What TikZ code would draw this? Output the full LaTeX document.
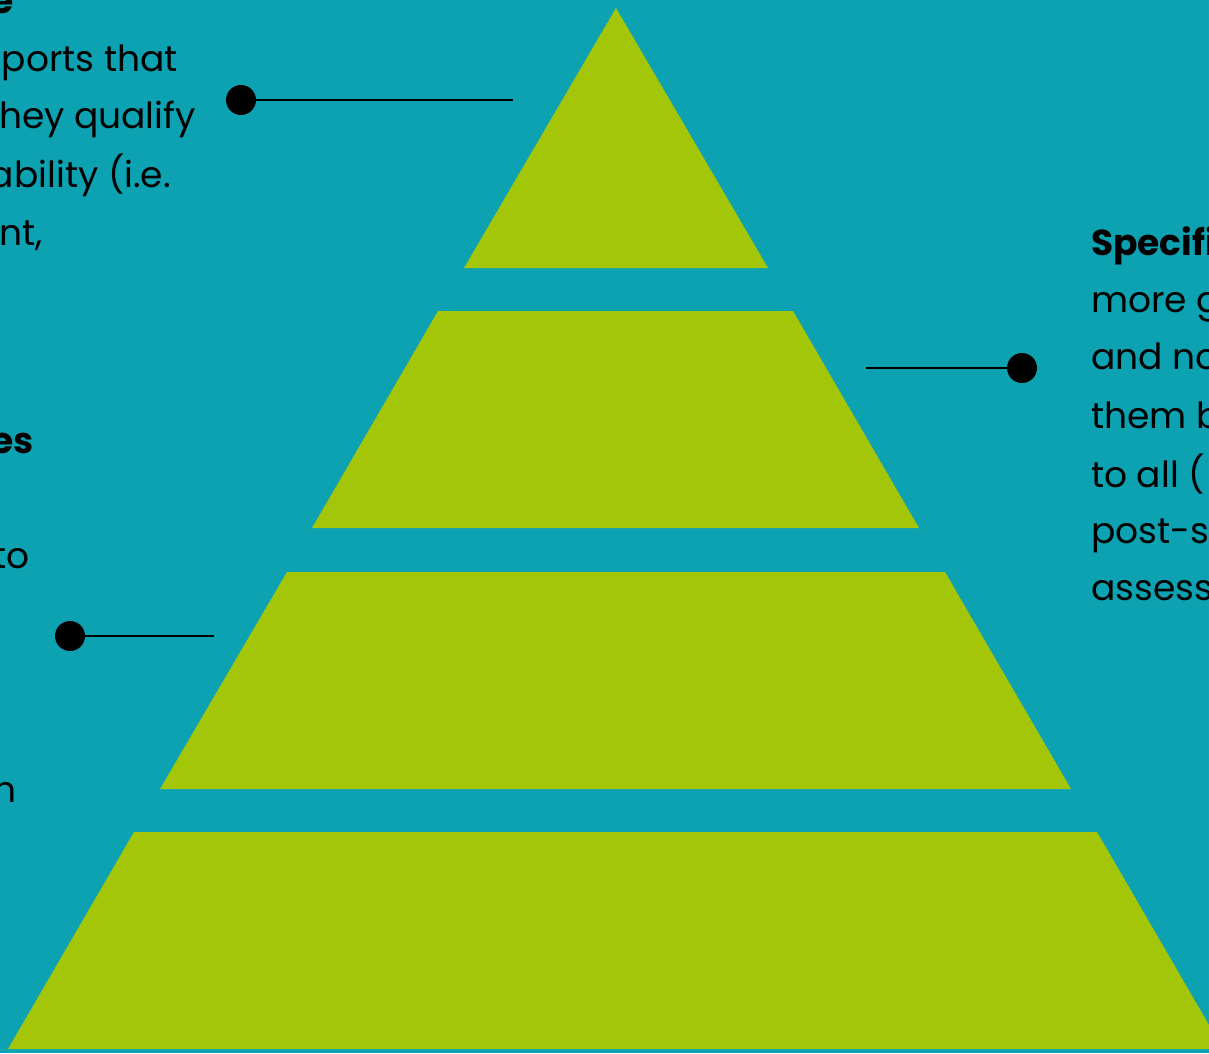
\documentclass[tikz,border=0pt]{standalone}
\usepackage{fontspec}
\setmainfont{Poppins}
\definecolor{teal}{RGB}{12,162,178}
\definecolor{lime}{RGB}{163,199,8}
\tikzset{
  tier/.style={fill=lime, draw=none},
  lead/.style={line width=2pt, black},
  dotc/.style={circle, fill=black, minimum size=30pt, inner sep=0pt},
  txt/.style={inner sep=0pt, font=\fontsize{36}{42}\selectfont},
  btxt/.style={inner sep=0pt, font=\fontsize{36}{42}\selectfont\bfseries},
}
\begin{document}
\begin{tikzpicture}[x=1pt,y=-1pt]
\useasboundingbox (0,0) rectangle (1209,1053);
\clip (0,0) rectangle (1209,1053);
\fill[teal] (0,0) rectangle (1209,1053);
% pyramid tiers
\fill[tier] (616,8) -- (768,268) -- (464,268) -- cycle;
\fill[tier] (438,311) -- (793,311) -- (919,528) -- (312,528) -- cycle;
\fill[tier] (287,572) -- (945,572) -- (1071,789) -- (160,789) -- cycle;
\fill[tier] (134,832) -- (1097,832) -- (1223,1049) -- (8,1049) -- cycle;
% connectors
\node[dotc] (d1) at (241,100) {};
\coordinate (e1) at (513,100);
\draw[lead] (d1.center) -- (e1);
\node[dotc] (d2) at (1022,368) {};
\coordinate (e2) at (866,368);
\draw[lead] (e2) -- (d2.center);
\node[dotc] (d3) at (70,636) {};
\coordinate (e3) at (214,636);
\draw[lead] (d3.center) -- (e3);
% left upper text (cropped)
\node[btxt, anchor=base east] (l0) at (14,13) {e};
\node[txt, anchor=base east] (l1) at (178,71) {ports that};
\node[txt, anchor=base east] (l2) at (196,128) {hey qualify};
\node[txt, anchor=base east] (l3) at (171,187) {ability (i.e.};
\node[txt, anchor=base east] (l4) at (43,245) {nt,};
% left lower text (cropped)
\node[btxt, anchor=base east] (m1) at (34,453) {es};
\node[txt, anchor=base east] (m2) at (30,568) {to};
\node[txt, anchor=base east] (m3) at (17,802) {h};
% right text (cropped)
\node[btxt, anchor=base west] (r0) at (1091,255) {Specific};
\node[txt, anchor=base west] (r1) at (1091,312) {more g};
\node[txt, anchor=base west] (r2) at (1091,369) {and no};
\node[txt, anchor=base west] (r3) at (1091,428) {them b};
\node[txt, anchor=base west] (r4) at (1091,487) {to all (};
\node[txt, anchor=base west] (r5) at (1091,543) {post-se};
\node[txt, anchor=base west] (r6) at (1091,600) {assess};
\end{tikzpicture}
\end{document}
